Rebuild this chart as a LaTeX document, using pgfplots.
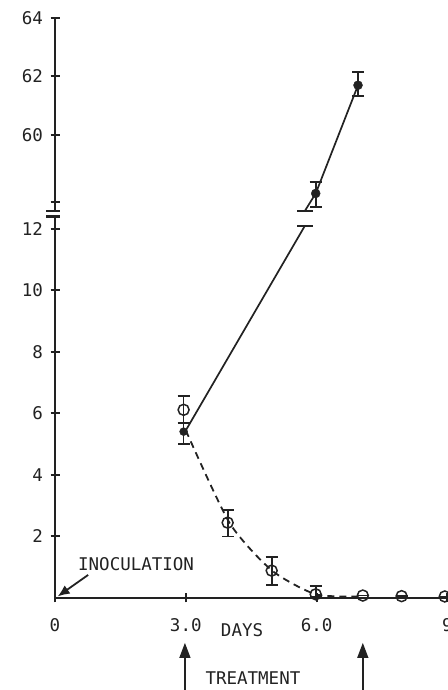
\documentclass[border=0pt]{standalone}
\usepackage{pgfplots}
\pgfplotsset{compat=1.18}
\usepackage{fontspec}
\setmainfont{DejaVu Sans Mono}
\usetikzlibrary{arrows.meta}
\definecolor{ink}{HTML}{222222}
\begin{document}
\begin{tikzpicture}[font=\fontsize{17.5}{20}\selectfont]
\pgfplotsset{
  every axis/.append style={
    scale only axis, width=392.4pt, xmin=0, xmax=9, clip=false,
    /pgf/number format/assume math mode=true,
    tick style={line width=2pt, ink},
    major tick length=9pt, tick align=outside,
    tick label style={font=\fontsize{17.5}{20}\selectfont, text=ink},
    yticklabel style={xshift=-4pt},
  },
  errstyle/.style={error bars/.cd, y dir=both, y explicit,
    error bar style={line width=1.7pt, ink},
    error mark options={rotate=90, mark size=6pt, line width=1.8pt, ink}},
}
% ---------- lower panel ----------
\begin{axis}[at={(55pt,92pt)}, anchor=south west, height=381.3pt,
  ymin=0, ymax=12.4,
  axis x line=bottom, axis y line=left,
  axis line style={line width=2.4pt, ink, -},
  xtick={0,3,6,9}, xticklabels={0,3.0,6.0,9},
  ytick={2,4,6,8,10,12},
  xticklabel style={yshift=-12pt},
]
% dashed decline (open circles, treated)
\addplot[ink, line width=1.8pt, dash pattern=on 7pt off 5pt, smooth, tension=0.4]
  coordinates {(3,5.45) (4,2.45) (4.97,0.9) (5.98,0.12) (7,0.05)};
% open circles with error bars
\addplot[only marks, mark=o, mark size=5.5pt, mark options={line width=1.5pt, ink, fill=white}, errstyle]
  coordinates {
  (2.95,6.12) += (0,0.46) -= (0,0.42)
  (3.96,2.45) += (0,0.40) -= (0,0.45)
  (4.97,0.89) += (0,0.44) -= (0,0.46)
  (5.98,0.12) += (0,0.27) -= (0,0.1)
  (7.06,0.08) += (0,0) -= (0,0)
  (7.95,0.06) += (0,0) -= (0,0)
  (8.94,0.05) += (0,0) -= (0,0)
  };
% solid rise, lower part
\addplot[ink, line width=1.7pt] coordinates {(3,5.45) (5.73,12.1)};
\addplot[only marks, mark=-, mark size=8pt, mark options={line width=1.8pt, ink}]
  coordinates {(5.73,12.1)};
% filled circle at day 3
\addplot[only marks, mark=*, mark size=4pt, mark options={ink}, errstyle]
  coordinates {(2.95,5.41) += (0,0.30) -= (0,0.40)};
% axis break mark
\draw[line width=2.4pt, ink] ([xshift=-9pt]rel axis cs:0,1) -- ([xshift=5pt]rel axis cs:0,1);
% annotations
\draw[ink, line width=1.8pt, -{Latex[length=12pt,width=10pt]}] (axis cs:0.76,0.75) -- (axis cs:0.06,0.05);
\node[text=ink] at (axis cs:1.86,1.1) {INOCULATION};
\node[text=ink] at (axis cs:4.29,-1.04) {DAYS};
\node[text=ink] at (axis cs:4.54,-2.6) {TREATMENT};
\draw[ink, line width=1.4pt, -{Triangle[length=15pt,width=11pt]}] (axis cs:2.98,-3.2) -- (axis cs:2.98,-1.46);
\draw[ink, line width=1.4pt, -{Triangle[length=15pt,width=11pt]}] (axis cs:7.06,-3.2) -- (axis cs:7.06,-1.46);
\end{axis}
% ---------- upper panel ----------
\begin{axis}[at={(55pt,479pt)}, anchor=south west, height=193.05pt,
  ymin=57.4, ymax=64,
  axis x line=none, axis y line=left,
  axis line style={line width=2.4pt, ink, -},
  ytick={60,62,64}, extra y ticks={57.7}, extra y tick labels={},
]
\addplot[ink, line width=1.7pt] coordinates {(5.73,57.4) (5.98,58.0) (6.95,61.7)};
\addplot[only marks, mark=-, mark size=8pt, mark options={line width=1.8pt, ink}]
  coordinates {(5.73,57.4)};
\addplot[only marks, mark=*, mark size=4.5pt, mark options={ink}, errstyle]
  coordinates {
  (5.98,58.0) += (0,0.38) -= (0,0.45)
  (6.95,61.7) += (0,0.44) -= (0,0.38)
  };
\draw[line width=2.4pt, ink] ([xshift=-9pt]rel axis cs:0,0) -- ([xshift=5pt]rel axis cs:0,0);
\end{axis}
\pgfresetboundingbox
\useasboundingbox (0pt,0pt) rectangle (447pt,690pt);
\end{tikzpicture}
\end{document}
